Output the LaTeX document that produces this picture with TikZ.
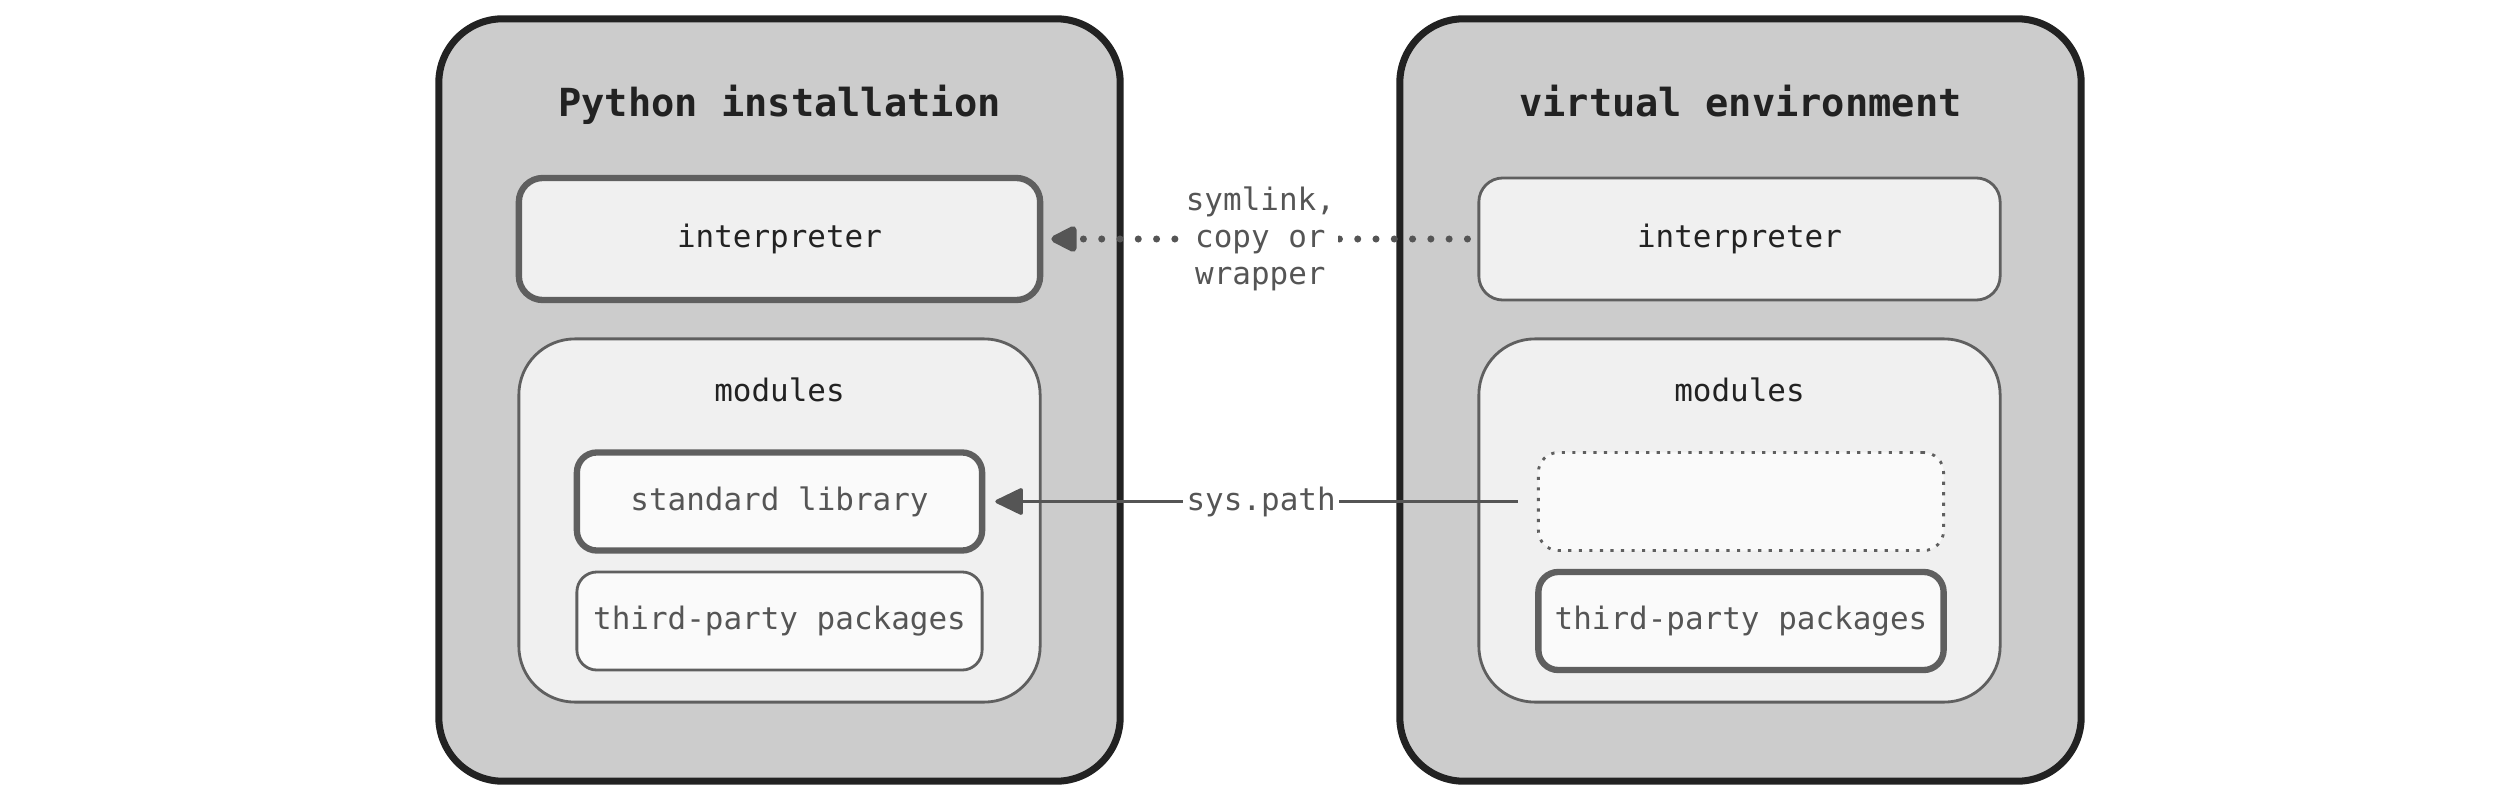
\documentclass[tikz,border=0pt]{standalone}
\usepackage{fontspec}
\setmonofont{DejaVu Sans Mono}
\usetikzlibrary{arrows.meta}
\definecolor{outerfill}{HTML}{CCCCCC}
\definecolor{outerline}{HTML}{222222}
\definecolor{midfill}{HTML}{F0F0F0}
\definecolor{innerfill}{HTML}{FAFAFA}
\definecolor{boxline}{HTML}{5F5F5F}
\definecolor{labelgrey}{HTML}{555555}
\definecolor{darktext}{HTML}{222222}
\tikzset{
  outerbox/.style={draw=outerline, fill=outerfill, line width=2pt, rounded corners=0.64cm,
    minimum width=6.81cm, minimum height=7.62cm, inner sep=0pt},
  titletext/.style={text=darktext, anchor=base, font=\ttfamily\bfseries\fontsize{11}{13}\selectfont},
  midbox/.style={draw=boxline, fill=midfill, line width=0.8pt, minimum width=5.21cm, inner sep=0pt},
  thickmid/.style={midbox, line width=1.8pt},
  interpbox/.style={minimum height=1.22cm, rounded corners=0.24cm, text=darktext,
    font=\ttfamily\fontsize{8.8}{10.5}\selectfont},
  modbox/.style={minimum height=3.63cm, rounded corners=0.56cm},
  smallbox/.style={draw=boxline, fill=innerfill, line width=0.8pt, minimum width=4.05cm,
    minimum height=0.98cm, rounded corners=0.2cm, inner sep=0pt, text=labelgrey,
    font=\ttfamily\fontsize{8.8}{10.5}\selectfont},
  thicksmall/.style={smallbox, line width=1.8pt},
  dotsmall/.style={smallbox, line width=0.8pt, dash pattern=on 0.9pt off 2.1pt},
  modlabel/.style={text=darktext, font=\ttfamily\fontsize{8.8}{10.5}\selectfont},
  conlabel/.style={fill=white, text=labelgrey, align=center, inner sep=1pt,
    font=\ttfamily\fontsize{8.8}{10.5}\selectfont},
  dotarrow/.style={draw=labelgrey, line width=2pt, line cap=round, dash pattern=on 0pt off 5.2pt,
    -{Triangle[length=0.3cm, width=0.28cm, round, line cap=butt, sep=0pt]}},
  solidarrow/.style={draw=labelgrey, line width=1pt,
    -{Triangle[length=0.3cm, width=0.28cm, round]}}
}
\begin{document}
\begin{tikzpicture}[x=0.01cm, y=-0.01cm]
\useasboundingbox (0,0) rectangle (2520,800);
% left: Python installation
\node[outerbox] (lout) at (779.5,400) {};
\node[titletext] (ltitle) at (779.5,116) {Python installation};
\node[thickmid, interpbox] (lint) at (779.5,239) {interpreter};
\node[midbox, modbox] (lmod) at (779.5,520.5) {};
\node[modlabel] (lmodl) at (779.5,390) {modules};
\node[thicksmall] (lstd) at (779.5,501.5) {standard library};
\node[smallbox] (ltp) at (779.5,621) {third-party packages};
% right: virtual environment
\node[outerbox] (rout) at (1740.5,400) {};
\node[titletext] (rtitle) at (1740.5,116) {virtual environment};
\node[midbox, interpbox] (rint) at (1739.5,239) {interpreter};
\node[midbox, modbox] (rmod) at (1739.5,520.5) {};
\node[modlabel] (rmodl) at (1739.5,390) {modules};
\node[dotsmall] (rstd) at (1741,501.5) {};
\node[thicksmall] (rtp) at (1741,621) {third-party packages};
% connectors
\draw[dotarrow, shorten <=0.1cm, shorten >=0.08cm] (rint.west) -- (lint.east)
  node[conlabel, midway] {symlink,\\copy or\\wrapper};
\draw[solidarrow, shorten <=0.19cm, shorten >=0.1cm] (rstd.west) -- (lstd.east)
  node[conlabel, midway] {sys.path};
\end{tikzpicture}
\end{document}
